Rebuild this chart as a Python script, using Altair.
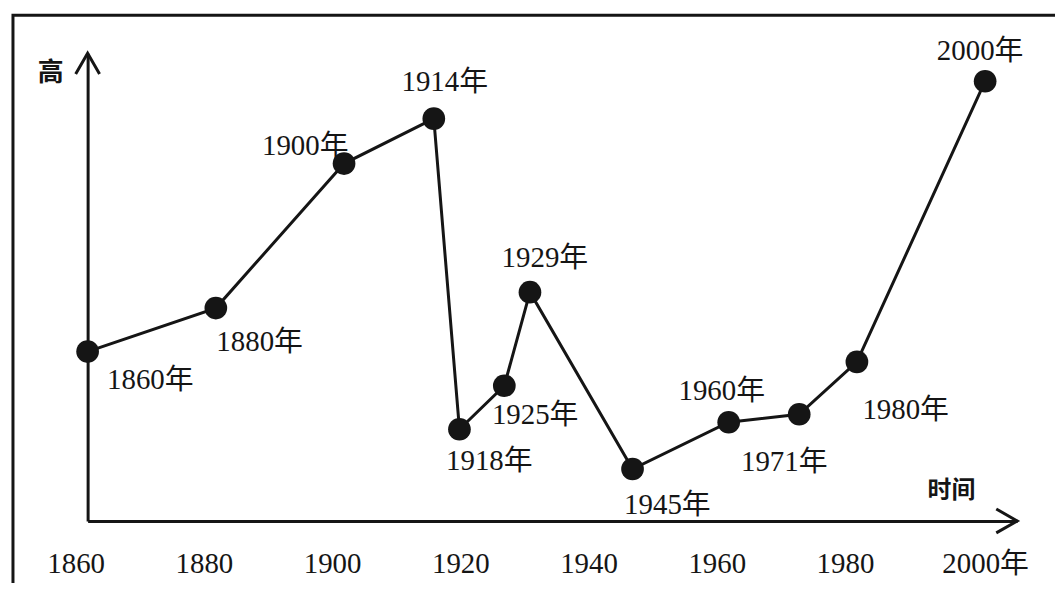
import altair as alt
import pandas as pd

# ---- data (level is a relative height, 0-100) ----
years = [1860, 1880, 1900, 1914, 1918, 1925, 1929, 1945, 1960, 1971, 1980, 2000]
levels = [36.2, 45.5, 76.4, 86.0, 19.6, 28.9, 48.9, 11.1, 21.1, 22.8, 34.0, 94.0]
point_labels = [f"{y}年" for y in years]
tick_years = [1860, 1880, 1900, 1920, 1940, 1960, 1980, 2000]
y_title = "高"
x_title = "时间"

df = pd.DataFrame({"year": years, "level": levels, "label": point_labels})
one = pd.DataFrame({"k": [0]})

FONT = "Liberation Serif, Noto Sans CJK SC"
INK = "#151515"

# label placement relative to each point (style, in pixels)
label_offsets = {
    1860: (63, 29), 1880: (44, 34), 1900: (-39, -18), 1914: (11, -37),
    1918: (30, 32), 1925: (31, 29), 1929: (15, -34), 1945: (35, 36),
    1960: (-7, -31), 1971: (-15, 48), 1980: (49, 48), 2000: (-5, -30),
}

x_scale = alt.Scale(domain=[1860, 2005], nice=False, zero=False)
y_scale = alt.Scale(domain=[0, 100], nice=False, zero=False)

x_enc = alt.X(
    "year:Q", scale=x_scale, title=None,
    axis=alt.Axis(
        values=tick_years, format="d",
        labelExpr="datum.value == 2000 ? '2000年' : datum.label",
        ticks=False, tickSize=0, grid=False,
        labelPadding=29, labelFont=FONT, labelFontSize=29, labelColor=INK,
        labelFlush=False, labelOverlap=False,
        labelOffset={"condition": {"test": "datum.value == 2000", "value": 0}, "value": -12},
        domainColor=INK, domainWidth=3,
    ),
)
y_enc = alt.Y(
    "level:Q", scale=y_scale, title=None,
    axis=alt.Axis(labels=False, ticks=False, grid=False, domainColor=INK, domainWidth=3),
)

base = alt.Chart(df).encode(x=x_enc, y=y_enc)
line = base.mark_line(color=INK, strokeWidth=3)
pts = base.mark_circle(size=520, color=INK, opacity=1)

label_layers = []
for yr in years:
    dx, dy = label_offsets[yr]
    label_layers.append(
        base.transform_filter(alt.datum.year == yr)
        .mark_text(font=FONT, fontSize=29, color=INK, dx=dx, dy=dy,
                   align="center", baseline="middle")
        .encode(text="label:N")
    )

arrow_up = alt.Chart(one).mark_point(
    shape="M-1,1.75L0,0L1,1.75", filled=False, stroke=INK, strokeWidth=3, size=576, opacity=1
).encode(x=alt.value(0), y=alt.value(0))
arrow_right = alt.Chart(one).mark_point(
    shape="M-1.75,-1L0,0L-1.75,1", filled=False, stroke=INK, strokeWidth=3, size=576, opacity=1
).encode(x=alt.value(934), y=alt.value(470))

frame = alt.Chart(one).mark_rect(fillOpacity=0, stroke=INK, strokeWidth=3).encode(
    x=alt.value(-75), y=alt.value(-38), x2=alt.value(1000), y2=alt.value(620)
)

ytitle = alt.Chart(one).mark_text(
    text=y_title, font="Noto Sans CJK SC", fontSize=26, fontWeight="bold", color=INK
).encode(x=alt.value(-37), y=alt.value(20))
xtitle = alt.Chart(one).mark_text(
    text=x_title, font="Noto Sans CJK SC", fontSize=24, fontWeight="bold", color=INK
).encode(x=alt.value(868), y=alt.value(440))

chart = alt.layer(
    frame, line, *label_layers, pts, arrow_up, arrow_right, ytitle, xtitle
).properties(
    width=934, height=470,
    autosize=alt.AutoSizeParams(type="none"),
    padding={"left": 80, "top": 44, "right": 38, "bottom": 61},
    background="white",
).configure_view(stroke=None)

chart.save("out.html", embed_options={"renderer": "svg", "actions": False})
